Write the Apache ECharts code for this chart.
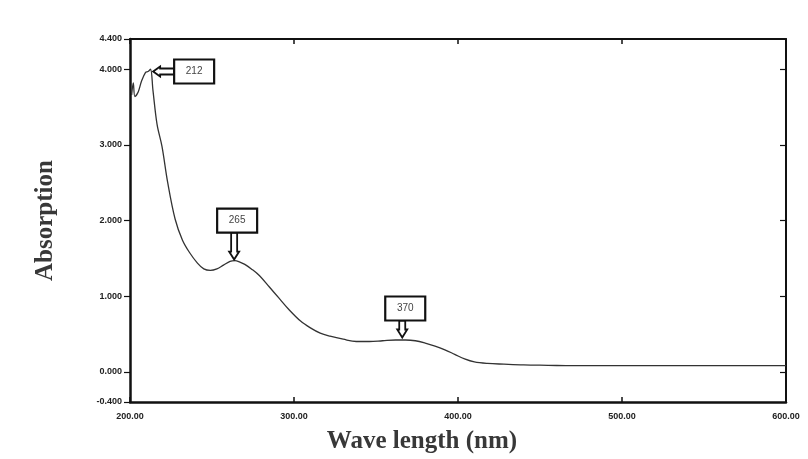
<!DOCTYPE html>
<html><head><meta charset="utf-8">
<script src="https://cdn.jsdelivr.net/npm/echarts@6/dist/echarts.min.js"></script>
<style>html,body{margin:0;padding:0;background:#fff}#c{width:808px;height:459px}</style>
</head><body><div id="c"></div>
<script>
// Wavelength (nm)
const wavelength = [201, 202, 203, 205, 207, 209.5, 211, 212.5, 214, 216.5, 219.5, 223, 227.5, 232, 236.5, 241, 245, 249, 253, 257, 261, 264, 267, 270, 274, 279, 285, 291, 297, 304, 310, 316, 322, 330, 338, 346, 354, 362, 368, 374, 380, 386, 392, 398, 404, 410, 418, 428, 440, 455, 470, 490, 520, 560, 600];
// Absorption
const absorption = [3.66, 3.82, 3.64, 3.70, 3.84, 3.96, 3.97, 4.00, 3.72, 3.27, 2.98, 2.50, 2.02, 1.74, 1.57, 1.44, 1.36, 1.34, 1.36, 1.41, 1.46, 1.47, 1.45, 1.42, 1.36, 1.27, 1.12, 0.97, 0.82, 0.67, 0.58, 0.51, 0.47, 0.43, 0.40, 0.40, 0.41, 0.42, 0.42, 0.41, 0.38, 0.34, 0.29, 0.23, 0.17, 0.13, 0.11, 0.10, 0.09, 0.085, 0.08, 0.08, 0.08, 0.08, 0.08];
// Y-axis tick values
const yTicks = [-0.4, 0, 1, 2, 3, 4, 4.4];
const yRightTicks = [0, 1, 2, 3, 4];
// Peak annotations
const peakLabels = ['212', '265', '370'];
const peakX = [213.5, 263.5, 366];
const peakY = [3.97, 1.47, 0.44];

const chart = echarts.init(document.getElementById('c'));
const serif = '"Liberation Serif","DejaVu Serif",serif';
const sans = '"Liberation Sans","DejaVu Sans",sans-serif';

chart.setOption({
  animation: false,
  backgroundColor: '#fff',
  grid: { left: 130, right: 22, top: 39, bottom: 55 },
  xAxis: [{
    type: 'value', min: 200, max: 600, interval: 100, position: 'bottom',
    axisLine: { show: true, onZero: false, lineStyle: { color: '#111', width: 2.5 } },
    axisTick: { show: true, inside: true, length: 5, lineStyle: { color: '#111', width: 1.5 } },
    axisLabel: { formatter: v => v.toFixed(2), color: '#222', fontFamily: sans, fontSize: 9, fontWeight: 'bold', margin: 10 },
    splitLine: { show: false },
    name: 'Wave length (nm)', nameLocation: 'middle', nameGap: 27,
    nameTextStyle: { fontFamily: serif, fontSize: 25, fontWeight: 'bold', color: '#383838', padding: [0, 72, 0, 0] }
  }, {
    type: 'value', min: 200, max: 600, interval: 100, position: 'top',
    axisLine: { show: true, onZero: false, lineStyle: { color: '#111', width: 2 } },
    axisTick: { show: true, inside: true, length: 5, lineStyle: { color: '#111', width: 1.5 } },
    axisLabel: { show: false }, splitLine: { show: false }
  }],
  yAxis: [{
    type: 'value', min: -0.4, max: 4.4, position: 'left',
    axisLine: { show: true, onZero: false, lineStyle: { color: '#111', width: 2.5 } },
    axisTick: { show: true, length: 6, customValues: yTicks, lineStyle: { color: '#111', width: 1.2 } },
    axisLabel: { customValues: yTicks, formatter: v => v.toFixed(3), color: '#222', fontFamily: sans, fontSize: 9, fontWeight: 'bold', margin: 8 },
    splitLine: { show: false },
    name: 'Absorption', nameLocation: 'middle', nameGap: 72, nameRotate: 90,
    nameTextStyle: { fontFamily: serif, fontSize: 25, fontWeight: 'bold', color: '#383838' }
  }, {
    type: 'value', min: -0.4, max: 4.4, position: 'right',
    axisLine: { show: true, onZero: false, lineStyle: { color: '#111', width: 2 } },
    axisTick: { show: true, inside: true, length: 6, customValues: yRightTicks, lineStyle: { color: '#111', width: 1.2 } },
    axisLabel: { show: false }, splitLine: { show: false }
  }],
  series: [{
    type: 'line', xAxisIndex: 0, yAxisIndex: 0,
    data: wavelength.map((w, i) => [w, absorption[i]]),
    showSymbol: false, smooth: 0.35,
    lineStyle: { color: '#333', width: 1.3 }
  }]
});

// annotation boxes & hollow arrows
const g = [];
const boxW = 40, boxH = 24;
peakLabels.forEach((lab, i) => {
  const [px, py] = chart.convertToPixel({ xAxisIndex: 0, yAxisIndex: 0 }, [peakX[i], peakY[i]]);
  let bx, by, arrow;
  if (i === 0) {
    const len = 20;
    bx = px + len + 2; by = py - boxH / 2;
    const x0 = px + 1, x1 = px + len + 2;
    arrow = [[x0, py], [x0 + 7, py - 5], [x0 + 7, py - 3], [x1, py - 3], [x1, py + 3], [x0 + 7, py + 3], [x0 + 7, py + 5]];
  } else {
    const len = i === 1 ? 28 : 18;
    bx = px - boxW / 2 + 3; by = py - len - boxH;
    const y0 = py - 1, y1 = py - len;
    arrow = [[px, y0], [px - 5, y0 - 8], [px - 3, y0 - 8], [px - 3, y1], [px + 3, y1], [px + 3, y0 - 8], [px + 5, y0 - 8]];
  }
  g.push({ type: 'polygon', shape: { points: arrow }, style: { fill: '#fff', stroke: '#111', lineWidth: 1.8 }, z: 10 });
  g.push({ type: 'rect', shape: { x: bx, y: by, width: boxW, height: boxH }, style: { fill: '#fff', stroke: '#111', lineWidth: 2.2 }, z: 11 });
  g.push({ type: 'text', x: bx + boxW / 2, y: by + boxH / 2, style: { text: lab, fill: '#444', font: '10px ' + sans, align: 'center', verticalAlign: 'middle' }, z: 12 });
});
chart.setOption({ graphic: g });
</script></body></html>
